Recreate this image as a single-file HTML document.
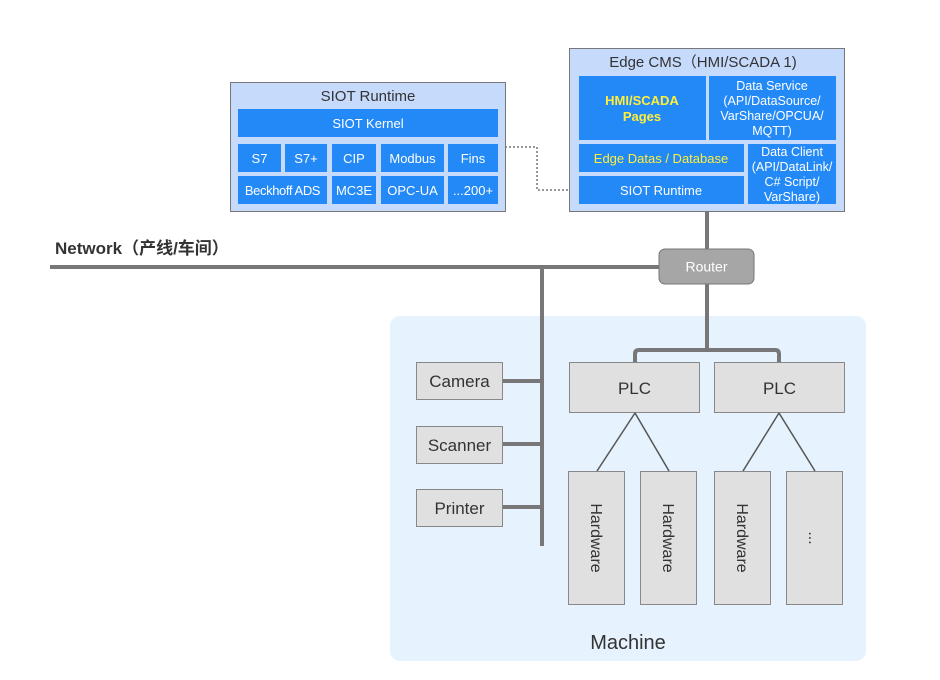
<!DOCTYPE html>
<html><head><meta charset="utf-8"><style>
html,body{margin:0;padding:0;background:#fff;}
svg{display:block;font-family:"Liberation Sans","Noto Sans CJK SC",sans-serif;}
</style></head><body>
<svg width="940" height="680" viewBox="0 0 940 680" xmlns="http://www.w3.org/2000/svg">
<rect width="940" height="680" fill="#fff"/>
<rect x="390" y="316" width="476" height="345" rx="10" fill="#e6f2fe"/>
<g stroke="#777" stroke-width="4" fill="none">
<line x1="50" y1="267" x2="662" y2="267"/>
<line x1="707" y1="212" x2="707" y2="250"/>
<line x1="707" y1="284" x2="707" y2="350"/>
<path d="M635 362 V354 Q635 350 639 350 H775 Q779 350 779 354 V362"/>
<line x1="542" y1="267" x2="542" y2="546"/>
<line x1="502" y1="381" x2="542" y2="381"/>
<line x1="502" y1="444" x2="542" y2="444"/>
<line x1="502" y1="507" x2="542" y2="507"/>
</g>
<path d="M505 147 H537 V190 H579" stroke="#777" stroke-width="1.5" stroke-dasharray="2,2" fill="none"/>
<text x="55" y="254" font-size="17" font-weight="bold" fill="#333">Network（产线/车间）</text>
<rect x="659" y="249" width="95" height="35" rx="6" fill="#a6a6a6" stroke="#777"/>
<text x="706.5" y="271.5" font-size="14" fill="#fff" text-anchor="middle">Router</text>
<rect x="230.5" y="82.5" width="275" height="129" fill="#c6dafc" stroke="#777"/>
<text x="368" y="101" font-size="15" fill="#333" text-anchor="middle">SIOT Runtime</text>
<g fill="#2389f7">
<rect x="238" y="109" width="260" height="28"/>
<rect x="238" y="144" width="43" height="28"/><rect x="285" y="144" width="42" height="28"/>
<rect x="332" y="144" width="44" height="28"/><rect x="381" y="144" width="63" height="28"/>
<rect x="448" y="144" width="50" height="28"/>
<rect x="238" y="176" width="89" height="28"/><rect x="332" y="176" width="44" height="28"/>
<rect x="381" y="176" width="63" height="28"/><rect x="448" y="176" width="50" height="28"/>
</g>
<g font-size="13" fill="#fff" text-anchor="middle">
<text x="368" y="128">SIOT Kernel</text>
<text x="259.5" y="163">S7</text><text x="306" y="163">S7+</text><text x="354" y="163">CIP</text>
<text x="412.5" y="163">Modbus</text><text x="473" y="163">Fins</text>
<text x="282.5" y="195" letter-spacing="-0.4">Beckhoff ADS</text><text x="354" y="195">MC3E</text>
<text x="412.5" y="195">OPC-UA</text><text x="473" y="195">...200+</text>
</g>
<rect x="569.5" y="48.5" width="275" height="163" fill="#c6dafc" stroke="#777"/>
<text x="703" y="67" font-size="15" fill="#333" text-anchor="middle">Edge CMS（HMI/SCADA 1)</text>
<g fill="#2389f7">
<rect x="579" y="76" width="127" height="64"/><rect x="709" y="76" width="127" height="64"/>
<rect x="579" y="144" width="165" height="28"/><rect x="579" y="176" width="165" height="28"/>
<rect x="748" y="144" width="88" height="60"/>
</g>
<g font-size="13" text-anchor="middle">
<text x="642" y="105" fill="#ffef3a" font-weight="bold">HMI/SCADA</text>
<text x="642" y="121" fill="#ffef3a" font-weight="bold">Pages</text>
<text x="661" y="163" fill="#ffef3a">Edge Datas / Database</text>
<text x="661" y="195" fill="#fff">SIOT Runtime</text>
<g fill="#fff" font-size="12.5">
<text x="772" y="90">Data Service</text><text x="772" y="105">(API/DataSource/</text>
<text x="772" y="120">VarShare/OPCUA/</text><text x="772" y="135">MQTT)</text>
<text x="792" y="156">Data Client</text><text x="792" y="171">(API/DataLink/</text>
<text x="792" y="186">C# Script/</text><text x="792" y="201">VarShare)</text>
</g>
</g>
<g fill="#e0e0e0" stroke="#888">
<rect x="416.5" y="362.5" width="86" height="37"/>
<rect x="416.5" y="426.5" width="86" height="37"/>
<rect x="416.5" y="489.5" width="86" height="37"/>
<rect x="569.5" y="362.5" width="130" height="50"/>
<rect x="714.5" y="362.5" width="130" height="50"/>
<rect x="568.5" y="471.5" width="56" height="133"/>
<rect x="640.5" y="471.5" width="56" height="133"/>
<rect x="714.5" y="471.5" width="56" height="133"/>
<rect x="786.5" y="471.5" width="56" height="133"/>
</g>
<g stroke="#555" stroke-width="1.5">
<line x1="635" y1="413" x2="597" y2="471"/><line x1="635" y1="413" x2="669" y2="471"/>
<line x1="779" y1="413" x2="743" y2="471"/><line x1="779" y1="413" x2="815" y2="471"/>
</g>
<g font-size="17" fill="#333" text-anchor="middle">
<text x="459.5" y="387">Camera</text>
<text x="459.5" y="451">Scanner</text>
<text x="459.5" y="514">Printer</text>
<text x="634.5" y="394">PLC</text>
<text x="779.5" y="394">PLC</text>
<text x="597" y="538" transform="rotate(90 597 538)" dy="6" font-size="16">Hardware</text>
<text x="669" y="538" transform="rotate(90 669 538)" dy="6" font-size="16">Hardware</text>
<text x="743" y="538" transform="rotate(90 743 538)" dy="6" font-size="16">Hardware</text>
<text x="815" y="538" transform="rotate(90 815 538)" dy="6" font-size="16">...</text>
<text x="628" y="649" font-size="20">Machine</text>
</g>
</svg>
</body></html>
